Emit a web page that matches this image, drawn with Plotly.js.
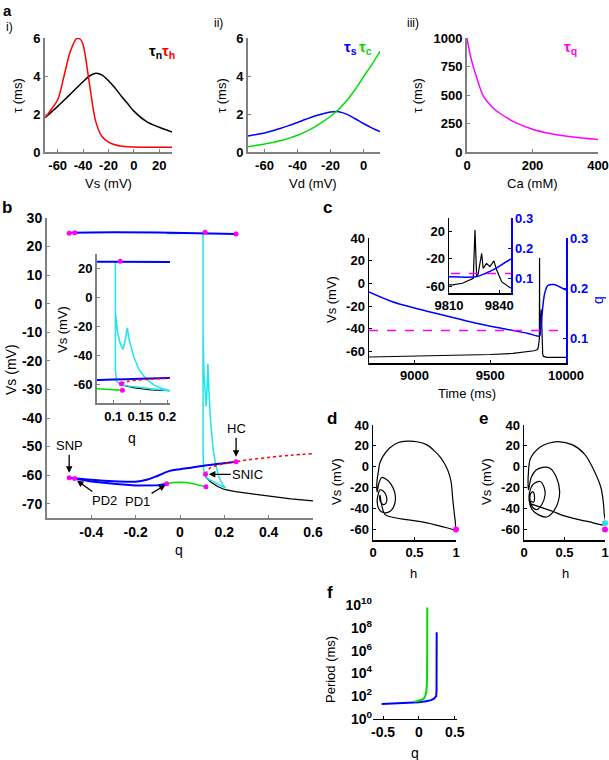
<!DOCTYPE html>
<html><head><meta charset="utf-8">
<script src="https://cdn.plot.ly/plotly-3.0.1.min.js"></script>
<style>html,body{margin:0;padding:0;background:#fff}#chart{width:609px;height:760px}</style>
</head><body><div id="chart"></div>
<script>
// ---------- Panel a(i): time constants vs Vs ----------
const vsA   = [-70,-65,-60,-55,-50,-45,-42,-40,-35,-30,-25,-20,-15,-10,-5,0,10,20,30];
const tauN  = [1.8,2.1,2.4,2.72,3.05,3.38,3.58,3.7,4.0,4.15,4.05,3.75,3.38,2.95,2.55,2.15,1.6,1.3,1.05];
const tauH  = [1.8,2.25,2.75,4.0,5.3,5.97,5.92,5.65,3.6,1.6,0.8,0.52,0.38,0.31,0.27,0.26,0.25,0.25,0.25];
// ---------- Panel a(ii): time constants vs Vd ----------
const vdA   = [-70,-65,-60,-55,-50,-45,-40,-35,-30,-25,-20,-15,-10,-5,0,5,10];
const tauS  = [0.84,0.92,1.0,1.12,1.25,1.4,1.55,1.72,1.88,2.0,2.1,2.12,1.98,1.75,1.5,1.27,1.07];
const tauC  = [0.28,0.35,0.42,0.5,0.6,0.73,0.88,1.07,1.3,1.57,1.88,2.25,2.72,3.3,3.95,4.6,5.3];
// ---------- Panel a(iii): tau_q vs Ca ----------
const caA   = [0,10,20,30,50,75,100,150,200,250,300,350,400];
const tauQ  = [1000,850,740,650,490,400,340,255,200,165,140,122,110];

// ---------- Panel b: bifurcation diagram ----------
const qTopBlue = [-0.5,-0.3,-0.1,0.1,0.253];
const vTopBlue = [24.8,25.0,24.9,24.7,24.4];
const qTopGreen = [-0.06,0.0];
const vTopGreen = [24.6,24.6];
const qBlueUp = [-0.5,-0.4,-0.3,-0.2,-0.15,-0.1,-0.05,0,0.05,0.1,0.15,0.2,0.253];
const vBlueUp = [-60.9,-61.6,-62.1,-62.3,-61.6,-60.2,-58.6,-57.9,-57.4,-56.8,-56.3,-55.8,-55.3];
const qBlueLow = [-0.475,-0.4,-0.3,-0.2,-0.1,-0.06];
const vBlueLow = [-61.2,-62.2,-63.0,-63.6,-63.5,-63.0];
const qGreen = [-0.06,-0.03,0,0.03,0.06,0.09,0.117];
const vGreen = [-63.0,-62.6,-62.5,-62.6,-63.0,-63.5,-64.1];
const qRed = [0.115,0.125,0.14,0.17,0.2,0.253,0.3,0.4,0.5,0.6];
const vRed = [-59.7,-58.3,-57.3,-56.5,-56.0,-55.3,-54.7,-53.8,-53.0,-52.5];
const qBlack = [0.115,0.14,0.17,0.2,0.25,0.3,0.4,0.5,0.6];
const vBlack = [-60.5,-62.5,-64.0,-65.0,-65.8,-66.3,-67.4,-68.3,-69.0];
const qCyan = [0.205,0.18,0.15,0.13,0.115,0.106,0.104,0.104,0.104,0.104,0.108,0.113,0.118,0.122,0.126,0.13,0.138,0.148,0.16,0.175,0.19,0.205];
const vCyan = [-64.5,-63.5,-62.5,-61.5,-60.3,-58,-50,0,25,-10,-24,-32,-36,-30,-21,-30,-41,-50,-56,-60.5,-63,-64.5];
const qDots = [-0.5,-0.475,0.253,0.113,-0.5,-0.475,-0.06,0.117,0.115,0.253];
const vDots = [24.7,24.8,24.4,25.0,-60.9,-61.2,-63.0,-64.1,-59.7,-55.3];

// ---------- Panel c: time course ----------
const tV = [8700,8900,9100,9300,9500,9650,9750,9790,9805,9812,9818,9822,9824.5,9825.5,9826.5,9827.4,9829.5,9830.4,9832.4,9834.4,9836.8,9838.4,9841.4,9846.3,9850,9870,9900,9950,10000];
const vsT = [-64.7,-64.3,-63.8,-63.2,-62.5,-61.6,-60.2,-59.2,-58.6,-58.0,-55.7,-51,-48.5,22.4,-46,-42,-12,-34,-26.5,-31.4,-23,-36,-53.4,-62,-64,-65,-65,-65,-65];
const tQ = [8700,8850,9000,9200,9400,9600,9750,9810,9826,9832,9838,9846,9860,9880,9920,9960,10000];
const qT = [0.192,0.173,0.160,0.145,0.130,0.118,0.109,0.104,0.104,0.116,0.132,0.16,0.19,0.205,0.207,0.202,0.196];
const tThr = [8700,10000];
const qThr = [0.115,0.115];

// ---------- Panel d: phase plane (h, Vs) ----------
const hD = [1.0,0.995,0.98,0.96,0.94,0.9,0.82,0.73,0.65,0.53,0.41,0.3,0.2,0.12,0.08,0.065,0.05,0.045,0.05,0.07,0.106,0.16,0.22,0.26,0.27,0.25,0.207,0.15,0.1,0.065,0.05,0.06,0.085,0.118,0.15,0.167,0.155,0.126,0.095,0.08,0.085,0.1,0.146,0.25,0.4,0.573,0.75,0.9,1.0];
const vD = [-60,-55,-45,-30,-14,-3,8.3,16,21,24,24.5,23,18,10,3,-4.4,-12,-20,-24,-16,-10.2,-12,-17,-24,-31.4,-38,-42.5,-44,-43,-39.4,-33,-27,-22,-22.9,-26,-31.4,-35,-36.2,-34,-30,-27,-35,-45.7,-48.5,-50.5,-52.5,-55.5,-58.5,-61];
const hDdot = [1.0]; const vDdot = [-60];
// ---------- Panel e ----------
const hE = [1.0,0.99,0.98,0.95,0.86,0.75,0.6,0.42,0.3,0.2,0.12,0.074,0.055,0.05,0.055,0.09,0.15,0.23,0.32,0.4,0.44,0.42,0.36,0.28,0.18,0.1,0.065,0.07,0.11,0.2,0.25,0.26,0.22,0.157,0.1,0.075,0.08,0.11,0.13,0.115,0.09,0.074,0.2,0.35,0.485,0.65,0.8,1.0];
const vE = [-55,-45,-34.6,-20,-2.9,12,21,24.1,22.5,19,13,6.7,-5,-15.5,-22,-10,-3,-0.5,-1.3,-10,-23.5,-34,-43,-48,-46,-41,-33,-24,-17,-14,-20,-26.7,-36,-41,-38,-32,-26,-24,-29,-34,-33,-34.6,-38.5,-42.5,-46.7,-50,-52.5,-55];
const hEcyan = [1.0]; const vEcyan = [-54];
const hEmag = [1.0]; const vEmag = [-60];

// ---------- Panel f: period vs q ----------
const qPerBlue = [-0.52,-0.3,-0.1,0,0.1,0.17,0.21,0.23,0.24,0.245,0.246,0.247];
const perBlue = [21,23,26,30,36,45,60,80,100,300,1e4,4e7];
const qPerGreen = [-0.06,0,0.04,0.07,0.09,0.105,0.112,0.115,0.116];
const perGreen = [33,40,48,65,110,300,3000,1e6,6e9];

// ---------- tick labels ----------
const tkAi_x = [-60,-40,-20,0,20],  tkAi_y = [0,2,4,6];
const tkAii_x = [-60,-40,-20,0],    tkAii_y = [0,2,4,6];
const tkAiii_x = [0,200,400],       tkAiii_y = [0,250,500,750,1000];
const tkB_x = [-0.4,-0.2,0,0.2,0.4,0.6], tkB_y = [-70,-60,-50,-40,-30,-20,-10,0,10,20,30];
const tkBi_x = [0.1,0.15,0.2],      tkBi_y = [-60,-40,-20,0,20];
const tkC_x = [9000,9500,10000],    tkC_y = [-60,-40,-20,0,20,40], tkC_q = [0.1,0.2,0.3];
const tkCi_x = [9810,9840],         tkCi_y = [-60,-20,20];
const tkDE_x = [0,0.5,1],           tkDE_y = [-60,-40,-20,0,20,40];
const tkF_x = [-0.5,0,0.5];
const tkF_y = [1,1e2,1e4,1e6,1e8,1e10];
const tkF_exp = [0,2,4,6,8,10];

// ---------- layout helpers ----------
const W = 609, H = 760;
const F = 'Liberation Sans, Arial, sans-serif';
const dx = (a,b)=>[a/W, b/W];
const dy = (a,b)=>[1-b/H, 1-a/H];
const BLUE='#0000ff', GREEN='#00dd00', RED='#ff0000', MAG='#ff00ff', CYAN='#1ee3f0';
const TF = (size,color)=>({family:F, size:size, color:color||'#000'});
const B = (vals)=>vals.map(v=>'<b>'+String(v)+'</b>');
const tk = (vals)=>({tickvals:vals, ticktext:B(vals)});

function axis(dom, range, anchor, o){
  return Object.assign({domain:dom, range:range, anchor:anchor, showline:true, linecolor:'#808080', linewidth:2,
    ticks:'inside', ticklen:3, tickwidth:1, tickcolor:'#808080', showgrid:false, zeroline:false, fixedrange:true,
    tickfont:TF(13)}, o||{});
}
function ln(x,y,xa,ya,color,width,extra){
  return Object.assign({x:x,y:y,xaxis:xa,yaxis:ya,type:'scatter',mode:'lines',line:{color:color,width:width},hoverinfo:'skip'}, extra||{});
}
function dots(x,y,xa,ya,color,size){
  return {x:x,y:y,xaxis:xa,yaxis:ya,type:'scatter',mode:'markers',marker:{color:color,size:size||5},cliponaxis:false,hoverinfo:'skip'};
}

const traces = [
  ln(vsA,tauN,'x','y','#000',1.5,{line:{color:'#000',width:1.5,shape:'spline'}}),
  ln(vsA,tauH,'x','y',RED,1.5,{line:{color:RED,width:1.5,shape:'spline'}}),
  ln(vdA,tauS,'x2','y2',BLUE,1.5,{line:{color:BLUE,width:1.5,shape:'spline'}}),
  ln(vdA,tauC,'x2','y2',GREEN,1.5,{line:{color:GREEN,width:1.5,shape:'spline'}}),
  ln(caA,tauQ,'x3','y3',MAG,1.5,{line:{color:MAG,width:1.5,shape:'spline'}}),
];
[['x4','y4'],['x5','y5']].forEach(([xa,ya])=>{
  traces.push(ln(qBlack,vBlack,xa,ya,'#000',1.2));
  traces.push(ln(qCyan,vCyan,xa,ya,CYAN,1.5));
  traces.push(ln(qTopGreen,vTopGreen,xa,ya,GREEN,1.5));
  traces.push(ln(qTopBlue,vTopBlue,xa,ya,BLUE,2));
  traces.push(ln(qGreen,vGreen,xa,ya,GREEN,1.5));
  traces.push(ln(qBlueLow,vBlueLow,xa,ya,BLUE,2));
  traces.push(ln(qBlueUp,vBlueUp,xa,ya,BLUE,2,{line:{color:BLUE,width:2,shape:'spline'}}));
  traces.push(ln(qRed,vRed,xa,ya,RED,1.5,{line:{color:RED,width:1.5,dash:'dot',shape:'spline'}}));
  traces.push(dots(qDots,vDots,xa,ya,MAG,5));
});
[['x6','y6','y7'],['x7','y8','y9']].forEach(([xa,ya,yb])=>{
  traces.push(ln(tV,vsT,xa,ya,'#000',1.2));
  traces.push(ln(tQ,qT,xa,yb,BLUE,1.5,{line:{color:BLUE,width:1.5,shape:'spline'}}));
  traces.push(ln(tThr,qThr,xa,yb,MAG,1.5,{line:{color:MAG,width:1.5,dash:'dash'}}));
});
traces.push(ln(hD,vD,'x8','y10','#000',1.2,{line:{color:'#000',width:1.2,shape:'spline'}}));
traces.push(dots(hDdot,vDdot,'x8','y10',MAG,6));
traces.push(ln(hE,vE,'x9','y11','#000',1.2,{line:{color:'#000',width:1.2,shape:'spline'}}));
traces.push(dots(hEmag,vEmag,'x9','y11',MAG,6));
traces.push(dots(hEcyan,vEcyan,'x9','y11',CYAN,6));
traces.push(ln(qPerBlue,perBlue,'x10','y12',BLUE,2));
traces.push(ln(qPerGreen,perGreen,'x10','y12',GREEN,2));

const BK = '#000';
const blk = {linecolor:BK, tickcolor:BK, linewidth:1.5};
const layout = {
  width:W, height:H, margin:{l:0,r:0,t:0,b:0}, showlegend:false,
  paper_bgcolor:'#fff', plot_bgcolor:'rgba(0,0,0,0)',
  xaxis:  axis(dx(45,172),  [-70,30], 'y',  tk(tkAi_x)),
  yaxis:  axis(dy(38,152),  [0,6],    'x',  tk(tkAi_y)),
  xaxis2: axis(dx(248,380), [-70,10], 'y2', tk(tkAii_x)),
  yaxis2: axis(dy(38,152),  [0,6],    'x2', tk(tkAii_y)),
  xaxis3: axis(dx(467,598), [0,400],  'y3', tk(tkAiii_x)),
  yaxis3: axis(dy(38,152),  [0,1000], 'x3', tk(tkAiii_y)),
  xaxis4: axis(dx(47,313),  [-0.6,0.6], 'y4', Object.assign(tk(tkB_x), {tickfont:TF(14)})),
  yaxis4: axis(dy(218,518), [-75,30], 'x4', Object.assign(tk(tkB_y), {tickfont:TF(14)})),
  xaxis5: axis(dx(97,170),  [0.07,0.205], 'y5', tk(tkBi_x)),
  yaxis5: axis(dy(254,403), [-73,30], 'x5', tk(tkBi_y)),
  xaxis6: axis(dx(369,566), [8700,10000], 'y6', Object.assign(tk(tkC_x), blk)),
  yaxis6: axis(dy(238,363), [-70,40], 'x6', Object.assign(tk(tkC_y), blk)),
  yaxis7: axis(dy(238,363), [0.05,0.3], 'x6', Object.assign(tk(tkC_q), {overlaying:'y6', side:'right', linecolor:BLUE, tickcolor:BLUE, linewidth:1.5, tickfont:TF(13,BLUE)})),
  xaxis7: axis(dx(449,511), [9810,9847], 'y8', Object.assign(tk(tkCi_x), blk)),
  yaxis8: axis(dy(218,293), [-70,40], 'x7', Object.assign(tk(tkCi_y), blk)),
  yaxis9: axis(dy(218,293), [0.05,0.3], 'x7', Object.assign(tk(tkC_q), {overlaying:'y8', side:'right', linecolor:BLUE, tickcolor:BLUE, linewidth:1.5, tickfont:TF(13,BLUE)})),
  xaxis8: axis(dx(373,456), [0,1], 'y10', Object.assign(tk(tkDE_x), blk)),
  yaxis10: axis(dy(425,540), [-70,40], 'x8', Object.assign(tk(tkDE_y), blk)),
  xaxis9: axis(dx(524,605), [0,1], 'y11', Object.assign(tk(tkDE_x), blk)),
  yaxis11: axis(dy(425,540), [-70,40], 'x9', Object.assign(tk(tkDE_y), blk)),
  xaxis10: axis(dx(373,457), [-0.64,0.53], 'y12', Object.assign(tk(tkF_x), {linecolor:BK, tickcolor:BK, linewidth:1, tickfont:TF(14)})),
  yaxis12: axis(dy(605,719), [0,10], 'x10', {type:'log', showline:false, ticks:'', tickvals:tkF_y,
     ticktext:tkF_exp.map(e=>'<b>10<sup>'+e+'</sup></b>'), tickfont:TF(14)}),
  annotations: []
};

const A = layout.annotations;
function txt(s, px, py, o){
  A.push(Object.assign({text:s, x:px/W, y:1-py/H, xref:'paper', yref:'paper', showarrow:false, xanchor:'center', yanchor:'middle',
    borderpad:0, font:{family:F, size:13, color:'#000'}}, o||{}));
}
const bold16 = {font:{family:F,size:17,weight:700,color:'#000'}};
txt('a',7,10,{font:{family:F,size:15,weight:700,color:'#000'}}); txt('b',7,207,bold16); txt('c',327,208,bold16);
txt('d',332,418,bold16); txt('e',483,418,bold16); txt('f',330,592,bold16);
txt('i)',9,27,{font:{family:F,size:12,color:'#000'}});
txt('ii)',218,23,{font:{family:F,size:12,color:'#000'}});
txt('iii)',413,23,{font:{family:F,size:12,color:'#000'}});
const yt = {textangle:-90};
txt('τ (ms)',18,96,yt); txt('Vs (mV)',108,183);
txt('τ (ms)',222,96,yt); txt('Vd (mV)',313,183);
txt('τ (ms)',418,96,yt); txt('Ca (mM)',532,183);
txt('Vs (mV)',11,370,Object.assign({},yt,{font:{family:F,size:14,color:'#000'}})); txt('q',179,550,{font:{family:F,size:14,color:'#000'}});
txt('Vs (mV)',62,330,yt); txt('q',132,438,{font:{family:F,size:14,color:'#000'}});
txt('Vs (mV)',331,300,yt); txt('Time (ms)',467,393); txt('q',598,300,{textangle:-90,font:{family:F,size:14,color:BLUE}});
txt('Vs (mV)',336,482,yt); txt('h',414,573);
txt('Vs (mV)',486,482,yt); txt('h',565,573);
txt('Period (ms)',330,670,yt); txt('q',415,753,{font:{family:F,size:14,color:'#000'}});
const lf = (c)=>({font:{family:F,size:15,weight:700,color:c}});
txt('τ<sub>n</sub>',155,52,lf('#000')); txt('τ<sub>h</sub>',168,52,lf(RED));
txt('τ<sub>s</sub>',350,48,lf(BLUE)); txt('τ<sub>c</sub>',365,48,lf(GREEN));
txt('τ<sub>q</sub>',570,48,lf(MAG));
function arr(s, x, y, ax, ay){
  A.push({text:s, x:x, y:y, xref:'x4', yref:'y4', ax:ax, ay:ay, showarrow:true, arrowhead:2, arrowsize:1, arrowwidth:1.3,
    arrowcolor:'#000', standoff:0, font:{family:F,size:13,color:'#000'}});
}
arr('SNP', -0.5, -59.2, 0, -27);
arr('HC', 0.253, -53.6, 0, -28);
arr('SNIC', 0.13, -59.7, 39, 0);
arr('PD2', -0.465, -61.9, 28, 20);
arr('PD1', -0.065, -63.4, -28, 17);

Plotly.newPlot('chart', traces, layout, {staticPlot:true, displayModeBar:false});
</script></body></html>
